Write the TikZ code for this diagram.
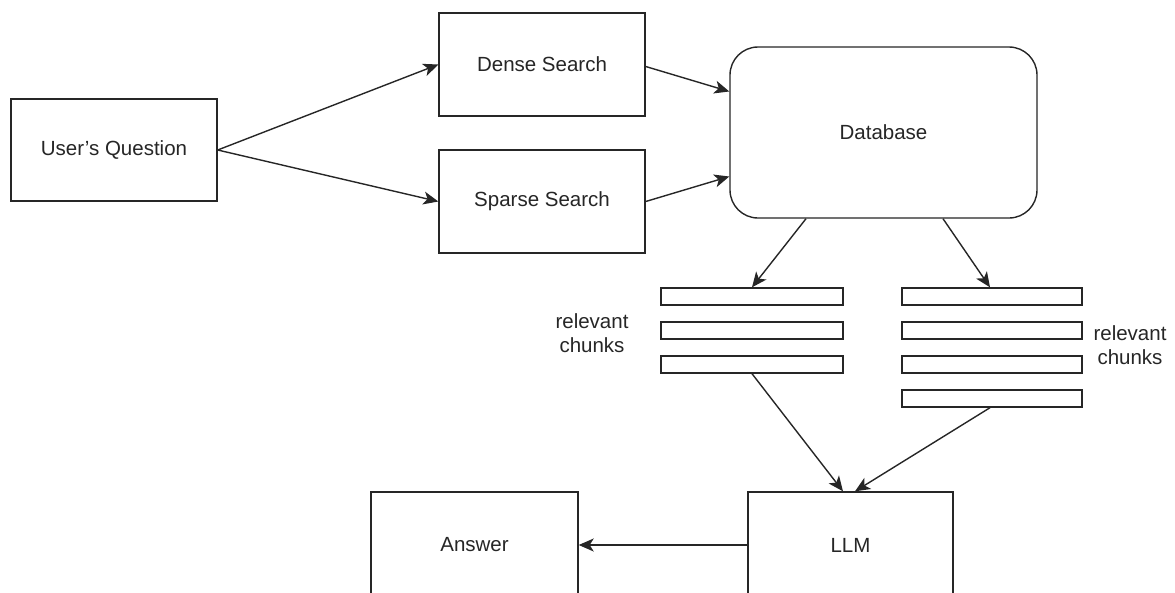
\documentclass[tikz,border=0pt]{standalone}
\usepackage{fontspec}
\setmainfont{Liberation Sans}
\usetikzlibrary{arrows.meta,calc}
\begin{document}
\begin{tikzpicture}[x=1pt,y=-1pt,
  every node/.style={font=\fontsize{20.5}{24}\selectfont, text=black!85},
  box/.style={draw=black!85, line width=1.4pt, fill=white, inner sep=0pt},
  chunk/.style={box, minimum height=17pt},
  flow/.style={draw=black!85, line width=1.4pt, -{Stealth[length=15pt,width=13pt,inset=4pt]}},
  label/.style={align=center, inner sep=0pt}]
\useasboundingbox (0,0) rectangle (1175,592);
\clip (0,0) rectangle (1175,592);

% query and retrievers
\node[box, minimum width=206pt, minimum height=102pt] (uq) at (114,150) {User's Question};
\node[box, minimum width=206pt, minimum height=103pt] (dense) at (542,64.5) {Dense Search};
\node[box, minimum width=206pt, minimum height=103pt] (sparse) at (542,201.5) {Sparse Search};
\node[box, rounded corners=28pt, minimum width=307pt, minimum height=171pt] (db) at (883.5,132.5) {Database};

% retrieved chunks
\node[chunk, minimum width=182pt] (l1) at (752,296.5) {};
\node[chunk, minimum width=182pt] (l2) at (752,330.5) {};
\node[chunk, minimum width=182pt] (l3) at (752,364.5) {};
\node[chunk, minimum width=180pt] (r1) at (992,296.5) {};
\node[chunk, minimum width=180pt] (r2) at (992,330.5) {};
\node[chunk, minimum width=180pt] (r3) at (992,364.5) {};
\node[chunk, minimum width=180pt] (r4) at (992,398.5) {};
\node[label] (lt) at (592,333) {relevant\\chunks};
\node[label] (rt) at (1130,345) {relevant\\chunks};

% generation
\node[box, minimum width=205pt, minimum height=106pt] (llm) at (850.5,545) {LLM};
\node[box, minimum width=207pt, minimum height=106pt] (ans) at (474.5,545) {Answer};

% connectors
\draw[flow] (uq.east) -- (dense.west);
\draw[flow] (uq.east) -- (sparse.west);
\draw[flow] ([yshift=-2pt]dense.east) -- ([yshift=41pt]db.west);
\draw[flow] (sparse.east) -- ([yshift=-44pt]db.west);
\draw[flow] ([xshift=-77.5pt]db.south) -- (l1.north);
\draw[flow] ([xshift=59.5pt]db.south) -- ([xshift=-2pt]r1.north);
\draw[flow] ([xshift=0pt]l3.south) -- ([xshift=-7.5pt]llm.north);
\draw[flow] ([xshift=-2pt]r4.south) -- ([xshift=4.5pt]llm.north);
\draw[flow] (llm.west) -- (ans.east);
\end{tikzpicture}
\end{document}
